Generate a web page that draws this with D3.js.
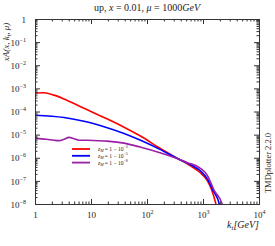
<!DOCTYPE html>
<html>
<head>
<meta charset="utf-8">
<script src="https://cdn.jsdelivr.net/npm/d3@7"></script>
<style>
  body { margin: 0; background: #fff; }
  text { font-family: "Liberation Serif", "DejaVu Serif", serif; fill: #222; }
  .domain { stroke: #333; }
</style>
</head>
<body>
<div id="chart"></div>
<script>
// curve data: kt in GeV, xA values
const ktRed = [1, 1.45, 2.18, 3.29, 7.5, 17.1, 38.9, 75, 170, 356, 586, 885, 1200, 1430, 1700, 1850];
const valRed = [6.3e-4, 6.5e-4, 5.1e-4, 3.5e-4, 1.38e-4, 5.5e-5, 2.1e-5, 8.9e-6, 2.6e-6, 9.1e-7, 4.6e-7, 2.3e-7, 1.0e-7, 4.0e-8, 1.0e-8, 4e-9];

const ktBlue = [1, 3.29, 7.5, 17.1, 38.9, 75, 170, 356, 600, 885, 1200, 1500, 1950, 2100];
const valBlue = [6.9e-5, 5.5e-5, 3.8e-5, 2.2e-5, 1.12e-5, 5.8e-6, 2.3e-6, 9.1e-7, 5.0e-7, 2.8e-7, 1.2e-7, 4.0e-8, 1.0e-8, 4e-9];

const ktPurple = [1, 1.6, 2.18, 2.7, 3.3, 4.05, 5, 6.1, 11.3, 19.3, 38.9, 75, 170, 356, 510, 885, 1200, 1570, 2200, 2400];
const valPurple = [6.9e-6, 6.3e-6, 5.75e-6, 5.5e-6, 6.3e-6, 7.6e-6, 6.6e-6, 5.75e-6, 5.6e-6, 5.25e-6, 4.3e-6, 2.9e-6, 1.65e-6, 9.1e-7, 6.3e-7, 3.6e-7, 1.7e-7, 4.0e-8, 1.0e-8, 4e-9];

const legendLabels = ["10", "10", "10"];
const legendExps = ["\u22123", "\u22125", "\u22128"];
const xTickExps = [0, 1, 2, 3, 4];
const yTickExps = [0, -1, -2, -3, -4, -5, -6, -7, -8];

const margin = { top: 19, right: 16, bottom: 42, left: 35 };
const width = 275 - margin.left - margin.right;
const height = 246 - margin.top - margin.bottom;

const svgRoot = d3.select('#chart').append("svg")
    .attr("width", width + margin.left + margin.right)
    .attr("height", height + margin.top + margin.bottom);
const svg = svgRoot.append("g")
    .attr("transform", "translate(" + margin.left + "," + margin.top + ")");

// scales
const x = d3.scaleLog().domain([1, 1e4]).range([0, width]);
const y = d3.scaleLog().domain([1e-8, 1]).range([height, 0]);

const xMajor = xTickExps.map(e => Math.pow(10, e));
const yMajor = yTickExps.map(e => Math.pow(10, e));
const xMinor = [], yMinor = [];
for (let e = 0; e < 4; e++) for (let k = 2; k <= 9; k++) xMinor.push(k * Math.pow(10, e));
for (let e = -8; e < 0; e++) for (let k = 2; k <= 9; k++) yMinor.push(k * Math.pow(10, e));

// clip for curves
svg.append("clipPath").attr("id", "clip")
    .append("rect").attr("width", width).attr("height", height);

// curves
const series = [
    { kt: ktRed, val: valRed, color: "#ff0000" },
    { kt: ktBlue, val: valBlue, color: "#0000ff" },
    { kt: ktPurple, val: valPurple, color: "#9b1fa6" }
];
const line = d3.line()
    .x(d => x(d[0]))
    .y(d => y(d[1]))
    .curve(d3.curveMonotoneX);

series.forEach(s => {
    svg.append("path")
        .datum(s.kt.map((k, i) => [k, s.val[i]]))
        .attr("clip-path", "url(#clip)")
        .attr("d", line)
        .style("fill", "none")
        .style("stroke", s.color)
        .style("stroke-width", 1.6);
});

// axes with inward ticks on all sides
function addAxis(axisFn, scale, major, minor, transform) {
    const gMin = svg.append("g").attr("transform", transform)
        .call(axisFn(scale).tickValues(minor).tickSize(-2.5).tickFormat(""));
    gMin.select(".domain").remove();
    const g = svg.append("g").attr("transform", transform)
        .call(axisFn(scale).tickValues(major).tickSize(-5).tickFormat(""));
    g.selectAll(".tick line").attr("stroke", "#333");
    gMin.selectAll(".tick line").attr("stroke", "#333");
    return g;
}
const gx = addAxis(d3.axisBottom, x, xMajor, xMinor, `translate(0,${height})`);
addAxis(d3.axisTop, x, xMajor, xMinor, "translate(0,0)");
const gy = addAxis(d3.axisLeft, y, yMajor, yMinor, "translate(0,0)");
addAxis(d3.axisRight, y, yMajor, yMinor, `translate(${width},0)`);

// tick labels
gx.selectAll(".tick").each(function (d, i) {
    const t = d3.select(this).append("text")
        .attr("y", 14).attr("text-anchor", "middle")
        .style("font-size", "9px").attr("fill", "#222");
    const e = xTickExps[i];
    if (e === 0) t.text("1");
    else if (e === 1) t.text("10");
    else {
        t.append("tspan").text("10");
        t.append("tspan").attr("dy", -4).style("font-size", "6px").text(e);
    }
});
gy.selectAll(".tick").each(function (d, i) {
    const t = d3.select(this).append("text")
        .attr("x", -9).attr("dy", "0.35em").attr("text-anchor", "end")
        .style("font-size", "9px").attr("fill", "#222");
    const e = yTickExps[i];
    if (e === 0) t.text("1");
    else {
        t.append("tspan").text("10");
        t.append("tspan").attr("dy", -4).style("font-size", "6px").text("\u2212" + (-e));
    }
});

// title
const title = svgRoot.append("text")
    .attr("x", margin.left + width / 2).attr("y", 11)
    .attr("text-anchor", "middle").style("font-size", "10px");
title.append("tspan").text("up, ");
title.append("tspan").style("font-style", "italic").text("x");
title.append("tspan").text(" = 0.01, ");
title.append("tspan").style("font-style", "italic").text("\u03bc");
title.append("tspan").text(" = 1000");
title.append("tspan").style("font-style", "italic").text("GeV");

// y label
const ylab = svgRoot.append("text")
    .attr("transform", "translate(9,42) rotate(-90)")
    .attr("text-anchor", "middle").style("font-size", "9px").style("font-style", "italic");
ylab.append("tspan").text("xA(x, k");
ylab.append("tspan").attr("dy", 2).style("font-size", "6px").text("t");
ylab.append("tspan").attr("dy", -2).text(", \u03bc)");

// x label
const xlab = svgRoot.append("text")
    .attr("x", margin.left + width).attr("y", 228)
    .attr("text-anchor", "end").style("font-size", "10px").style("font-style", "italic");
xlab.append("tspan").text("k");
xlab.append("tspan").attr("dy", 2).style("font-size", "7px").text("t");
xlab.append("tspan").attr("dy", -2).text("[GeV]");

// side note
svgRoot.append("text")
    .attr("transform", "translate(271,163) rotate(-90)")
    .attr("text-anchor", "middle").style("font-size", "8.5px")
    .text("TMDplotter 2.2.0");

// legend
const legendY = [149, 155.8, 162.6];
series.forEach((s, i) => {
    const g = svgRoot.append("g").attr("transform", `translate(72,${legendY[i]})`);
    g.append("line").attr("x1", 0).attr("x2", 18)
        .style("stroke", s.color).style("stroke-width", 1.8);
    const t = g.append("text").attr("x", 26).attr("dy", "0.35em").style("font-size", "5.5px");
    t.append("tspan").style("font-style", "italic").text("z");
    t.append("tspan").attr("dy", 1.2).style("font-size", "4px").style("font-style", "italic").text("M");
    t.append("tspan").attr("dy", -1.2).text(" = 1 \u2212 " + legendLabels[i]);
    t.append("tspan").attr("dy", -2.5).style("font-size", "4px").text(legendExps[i]);
});
</script>
</body>
</html>
